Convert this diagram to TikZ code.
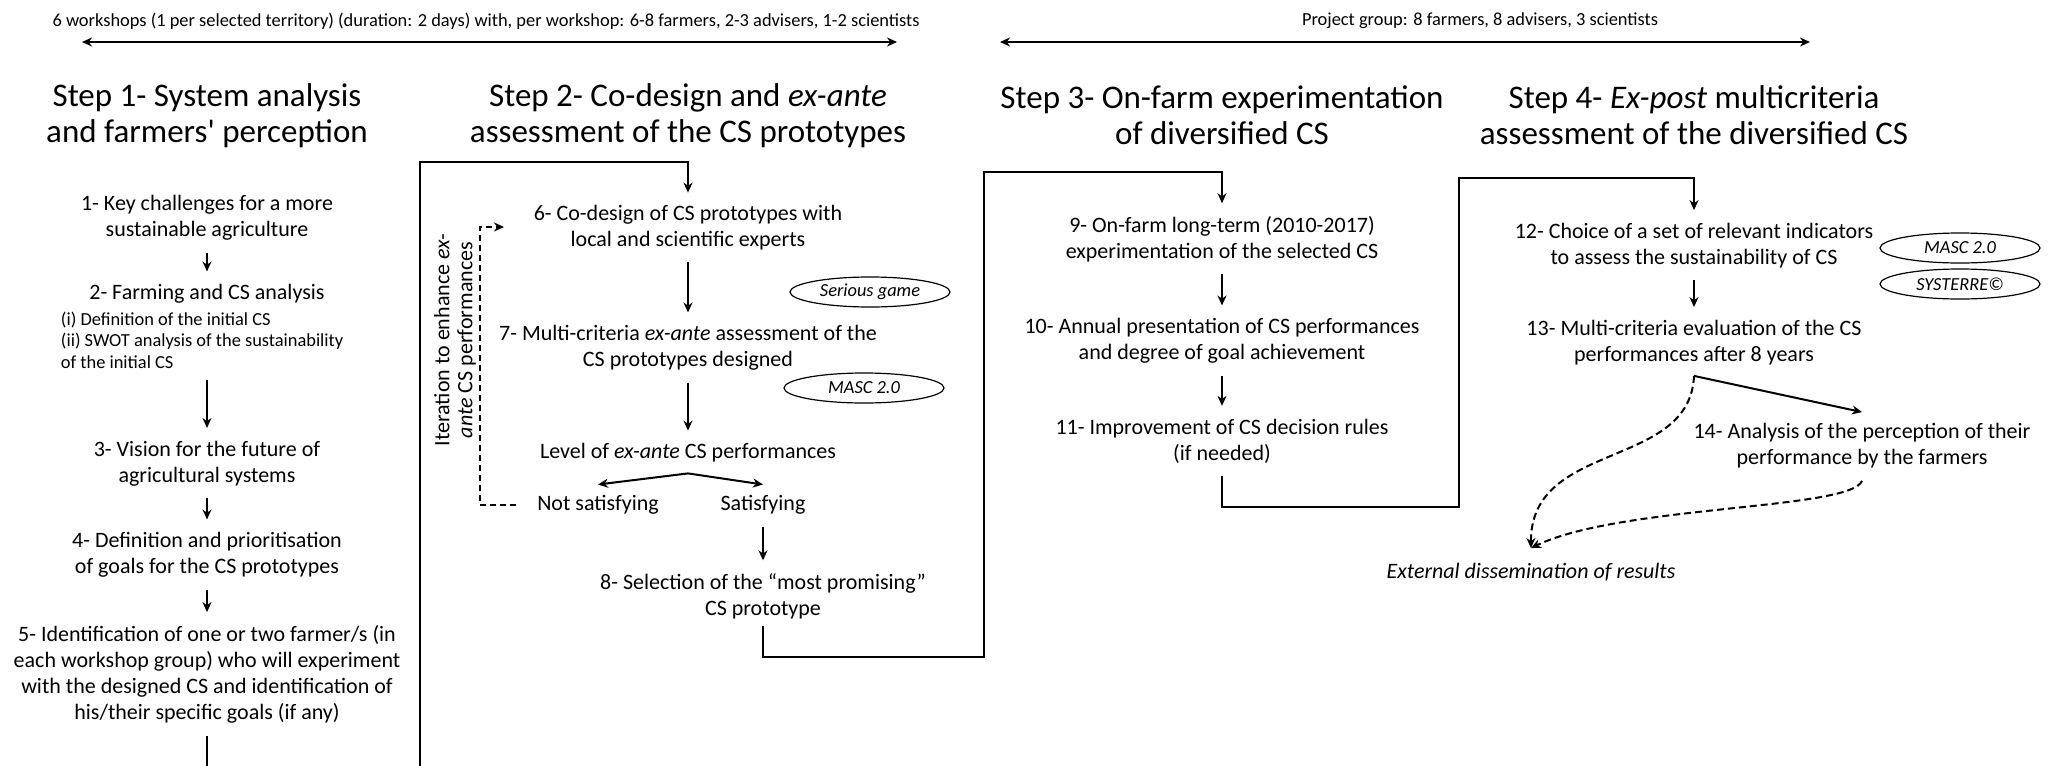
\documentclass[tikz,border=0pt]{standalone}
\usepackage{fontspec}
\setmainfont{Carlito}
\usepackage{tikz}
\usetikzlibrary{shapes.geometric}
\usetikzlibrary{arrows.meta}

\begin{document}
\begin{tikzpicture}[x=0.5pt, y=-0.5pt, line width=1pt,
    >={Stealth[length=5pt,width=4.5pt]},
    item/.style={align=center, inner sep=0pt, font=\fontsize{11}{13}\selectfont},
    head/.style={align=center, inner sep=0pt, font=\fontsize{16.5}{18}\selectfont},
    small/.style={align=left, inner sep=0pt, font=\fontsize{9.2}{10.75}\selectfont},
    top/.style={inner sep=0pt, font=\fontsize{9.2}{11}\selectfont},
    tool/.style={draw, ellipse, line width=0.6pt, minimum width=80pt, minimum height=15pt,
        inner sep=0pt, font=\fontsize{9.2}{11}\selectfont\itshape},
    flow/.style={->, shorten <=5.5pt, shorten >=6pt},
    back/.style={->, dash pattern=on 3pt off 2pt, shorten <=10pt},
    spread/.style={->, dash pattern=on 3.5pt off 2pt}]

    \useasboundingbox (0,0) rectangle (2063,766);

    \coordinate (wsL) at (82,42);
    \coordinate (wsR) at (897,42);
    \coordinate (pgL) at (1000,42);
    \coordinate (pgR) at (1810,42);

    \coordinate (b12) at (420,766);
    \coordinate (t12) at (688,162);
    \coordinate (b23) at (984,657);
    \coordinate (t23) at (1222,172);
    \coordinate (b34) at (1459,507);
    \coordinate (t34) at (1694,178);
    \coordinate (itTop) at (480,227);
    \coordinate (itTip) at (504,227);

%participants
    \node[top] (ws) at (486,21) {6 workshops (1 per selected territory) (duration: 2 days) with, per workshop: 6-8 farmers, 2-3 advisers, 1-2 scientists};
    \node[top] (pg) at (1480,21) {Project group: 8 farmers, 8 advisers, 3 scientists};
    \draw[<->, line width=1.3pt] (wsL) -- (wsR);
    \draw[<->, line width=1.3pt] (pgL) -- (pgR);

%steps
    \node[head] (h1) at (207,115.5) {Step 1- System analysis\\and farmers\textquotesingle{} perception};
    \node[head] (h2) at (688,115.5) {Step 2- Co-design and \textit{ex-ante}\\assessment of the CS prototypes};
    \node[head] (h3) at (1222,115.5) {Step 3- On-farm experimentation\\of diversified CS};
    \node[head] (h4) at (1694,115.5) {Step 4- \textit{Ex-post} multicriteria\\assessment of the diversified CS};

%step 1
    \node[item] (s1) at (207,218) {1- Key challenges for a more\\sustainable agriculture};
    \node[item] (s2) at (207,294) {2- Farming and CS analysis};
    \node[small, anchor=west] (s2b) at (60,340) {(i) Definition of the initial CS\\(ii) SWOT analysis of the sustainability\\of the initial CS};
    \node[item] (s3) at (207,463.5) {3- Vision for the future of\\agricultural systems};
    \node[item] (s4) at (207,555) {4- Definition and prioritisation\\of goals for the CS prototypes};
    \node[item] (s5) at (207,674) {5- Identification of one or two farmer/s (in\\each workshop group) who will experiment\\with the designed CS and identification of\\his/their specific goals (if any)};

    \draw[flow] (s1) -- (s2);
    \draw[flow] (s2b.south -| s3.north) -- (s3);
    \draw[flow] (s3) -- (s4);
    \draw[flow] (s4) -- (s5);
    \draw[shorten <=6pt] (s5) -- (s5 |- b12);

%step 2
    \node[item] (s6) at (688,228) {6- Co-design of CS prototypes with\\local and scientific experts};
    \node[item] (s7) at (688,348) {7- Multi-criteria \textit{ex-ante} assessment of the\\CS prototypes designed};
    \node[item] (lvl) at (688,453) {Level of \textit{ex-ante} CS performances};
    \node[item] (ns) at (598,505) {Not satisfying};
    \node[item] (sat) at (763,505) {Satisfying};
    \node[item] (s8) at (763,596) {8- Selection of the “most promising”\\CS prototype};
    \node[tool] (sg) at (870,292) {Serious game};
    \node[tool] (masc1) at (864,388) {MASC 2.0};
    \node[item, rotate=90, font=\fontsize{11}{11.5}\selectfont] (iter) at (455,340) {Iteration to enhance \textit{ex-}\\\textit{ante} CS performances};

    \coordinate (split) at ([yshift=-5pt]lvl.south);
    \draw[->, shorten >=6pt] (b12) |- (t12) -- (s6);
    \draw[flow] (s6) -- (s7);
    \draw[flow] (s7) -- (lvl);
    \draw[->] (split) -- ([yshift=5pt]ns.north);
    \draw[->] (split) -- ([yshift=5pt]sat.north);
    \draw[flow] (sat) -- (s8);
    \draw[back] (ns.west) -| (itTop) -- (itTip);

%step 3
    \node[item] (s9) at (1222,239) {9- On-farm long-term (2010-2017)\\experimentation of the selected CS};
    \node[item] (s10) at (1222,341) {10- Annual presentation of CS performances\\and degree of goal achievement};
    \node[item] (s11) at (1222,441) {11- Improvement of CS decision rules\\(if needed)};

    \draw[->, shorten <=3pt, shorten >=6pt] (s8) |- (b23) |- (t23) -- (s9);
    \draw[flow] (s9) -- (s10);
    \draw[flow] (s10) -- (s11);

%step 4
    \node[item] (s12) at (1694,245.5) {12- Choice of a set of relevant indicators\\to assess the sustainability of CS};
    \node[tool] (masc2) at (1960,248) {MASC 2.0};
    \node[tool] (syst) at (1960,284) {SYSTERRE©};
    \node[item] (s13) at (1694,342.5) {13- Multi-criteria evaluation of the CS\\performances after 8 years};
    \node[item] (s14) at (1862,445.5) {14- Analysis of the perception of their\\performance by the farmers};
    \node[item, font=\fontsize{11}{13}\selectfont\itshape] (ext) at (1531,572) {External dissemination of results};

    \coordinate (fork) at ([yshift=-5pt]s13.south);
    \coordinate (extIn) at ([yshift=7pt]ext.north);
    \draw[->, shorten <=6pt, shorten >=6pt] (s11) |- (b34) |- (t34) -- (s12);
    \draw[flow] (s12) -- (s13);
    \draw[->] (fork) -- ([yshift=5pt]s14.north);
    \draw[spread] (fork) .. controls (1690,470) and (1530,440) .. (extIn);
    \draw[spread] ([yshift=-6pt]s14.south) .. controls (1850,510) and (1620,505) .. (extIn);

\end{tikzpicture}
\end{document}
